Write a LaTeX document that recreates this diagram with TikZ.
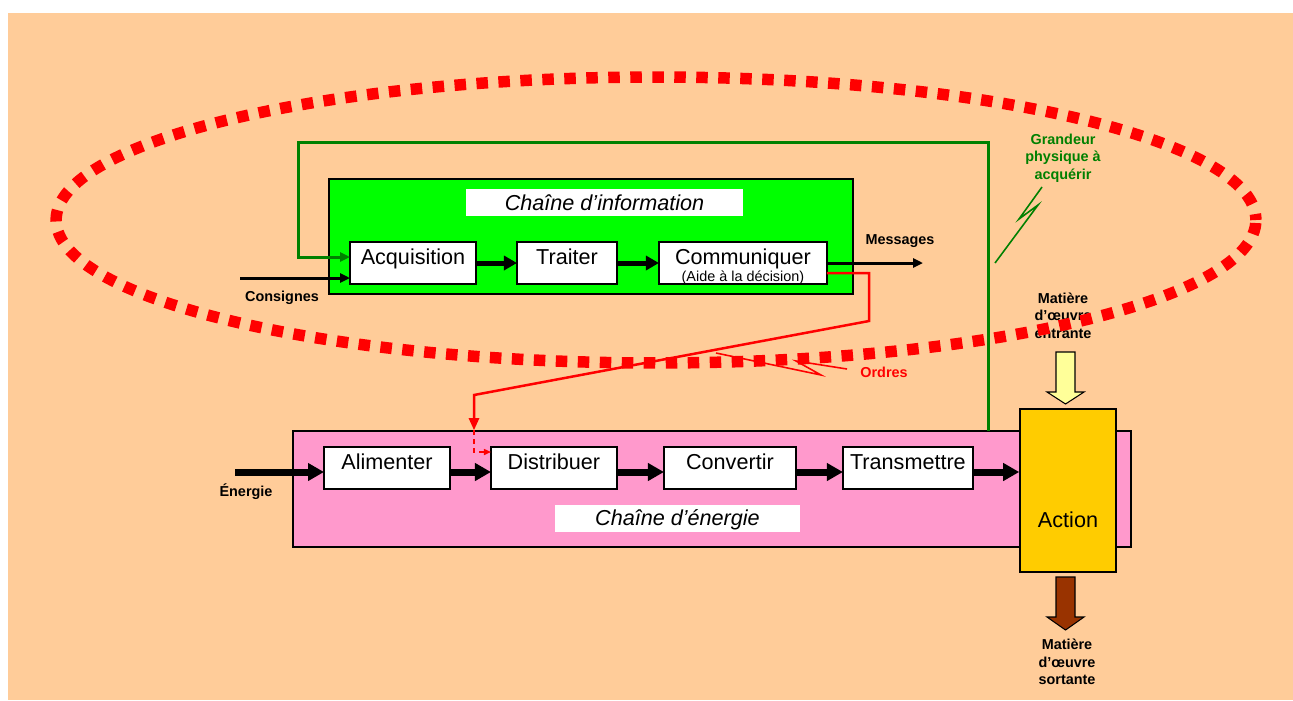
\documentclass[tikz,border=0pt]{standalone}
\usepackage{fontspec}
\setmainfont{Liberation Sans}
\usetikzlibrary{arrows.meta,positioning,calc}
\definecolor{peach}{HTML}{FFCC99}
\definecolor{infogreen}{HTML}{00FF00}
\definecolor{darkgreen}{HTML}{008000}
\definecolor{pinkchain}{HTML}{FF99CC}
\definecolor{actionyellow}{HTML}{FFCC00}
\definecolor{paleyellow}{HTML}{FFFF99}
\definecolor{brownout}{HTML}{993300}
\newcommand{\bigtext}{\fontsize{12.3}{14.8}\selectfont}
\newcommand{\smalltext}{\fontsize{8.2}{9.9}\selectfont}
\tikzstyle{block}      = [rectangle, draw, fill=white, line width=0.9pt, inner sep=0pt, outer sep=0pt, text height=0.44cm, text depth=0.40cm, font=\bigtext]
\tikzstyle{chainbox}   = [rectangle, draw, line width=0.9pt, inner sep=0pt]
\tikzstyle{chaintitle} = [rectangle, fill=white, inner sep=0pt, text height=0.42cm, text depth=0.12cm, font=\bigtext\itshape]
\tikzstyle{tag}        = [font=\smalltext\bfseries, align=center, inner sep=0pt]
\tikzstyle{line}       = [draw, line width=0.1cm, -{Triangle[length=0.26cm, width=0.28cm]}]
\tikzstyle{power}      = [draw, line width=0.14cm, -{Triangle[length=0.32cm, width=0.34cm]}]
\tikzstyle{thin line}  = [draw, line width=0.06cm, -{Triangle[length=0.2cm, width=0.18cm]}]

\begin{document}
\begin{tikzpicture}[x=0.02cm, y=-0.02cm, node distance=0.82cm]

		\useasboundingbox (0,0) rectangle (1293,700);
		\fill [peach] (8,13) rectangle (1293,700);

		% Chaine d'information %

		\node [chainbox, fill=infogreen, minimum width=10.48cm, minimum height=2.3cm] (info) at (591,236.5) {};
		\node [chaintitle, minimum width=5.54cm] (infotitle) at (604.5,202.5) {Chaîne d’information};
		% blocks ==================================%
		\node [block, minimum width=2.52cm] (acq) at (413,263) {Acquisition};
		\node [block, minimum width=2cm, right=0.82cm of acq] (trait) {Traiter};
		\node [block, minimum width=3.36cm, right=0.84cm of trait] (comm) {Communiquer};
		\node [font=\smalltext, inner sep=0pt, anchor=base] (aide) at ($(comm.south)+(0,-3)$) {(Aide à la décision)};

		% Chaine d'energie %

		\node [chainbox, fill=pinkchain, minimum width=16.76cm, minimum height=2.32cm] (nrj) at (712,489) {};
		\node [chaintitle, minimum width=4.9cm] (nrjtitle) at (677.5,518) {Chaîne d’énergie};
		% blocks ==================================%
		\node [block, minimum width=2.52cm] (alim) at (387,468) {Alimenter};
		\node [block, minimum width=2.52cm, right=0.82cm of alim] (dist) {Distribuer};
		\node [block, minimum width=2.64cm, right=0.94cm of dist] (conv) {Convertir};
		\node [block, minimum width=2.6cm, right=0.94cm of conv] (trans) {Transmettre};
		% action ==================================%
		\node [chainbox, fill=actionyellow, minimum width=1.92cm, text height=2.36cm, text depth=0.9cm, font=\bigtext] (act) at (1068,490.5) {Action};

		% Labels %

		\node [tag] (cons) at (282,298) {Consignes};
		\node [tag] (msg) at (900,241) {Messages};
		\node [tag] (nrjlabel) at (246,492) {Énergie};
		\node [tag, text=red] (ordres) at (884,372) {Ordres};
		\node [tag, text=darkgreen] (grandeur) at (1063,158) {Grandeur\\physique à\\acquérir};
		\node [tag] (entree) at (1063,315.5) {Matière\\d’œuvre\\entrante};
		\node [tag] (sortie) at (1067,662) {Matière\\d’œuvre\\sortante};

		% Connection %

		\coordinate (consin) at (240,278);
		\coordinate (msgout) at (923,263);
		\coordinate (nrjin) at (235,472);
		\coordinate (sensor) at (988,431);
		\coordinate (ordbend) at (474,395);
		\coordinate (transout) at ($(trans.east)+(0,4)$);

		\path [line] (acq)  -- (trait);
		\path [line] (trait)  -- (comm);
		\path [thin line] (comm.east)  -- (msgout);
		\path [thin line] (consin)  -- (consin -| acq.west);

		\path [power] (nrjin)  -- (nrjin -| alim.west);
		\path [power] ($(alim.east)+(0,4)$)  -- ($(dist.west)+(0,4)$);
		\path [power] ($(dist.east)+(0,4)$)  -- ($(conv.west)+(0,4)$);
		\path [power] ($(conv.east)+(0,4)$)  -- ($(trans.west)+(0,4)$);
		\path [power] (transout)  -- (transout -| act.west);

		\draw [darkgreen, line width=0.06cm, -{Triangle[length=0.2cm, width=0.18cm]}] (sensor) |- (298,142) |- ($(acq.west)+(0,-6)$);
		\draw [darkgreen, line width=0.9pt] (1042,187) -- (1019,219) -- (1038,205) -- (995,263);

		\draw [red, line width=0.05cm, -{Triangle[length=0.24cm, width=0.2cm]}] ($(comm.east)+(0,10)$) -| (869,321) -- (ordbend) -- (ordbend |- nrj.north);
		\draw [red, line width=0.03cm, dash pattern=on 0.1cm off 0.08cm, -{Triangle[length=0.14cm, width=0.12cm]}] (ordbend |- nrj.north) |- ($(dist.west)+(0,-16)$);
		\draw [red, line width=0.9pt] (847,369) -- (796,361) -- (821,375) -- (716,353);

		% Matiere d'oeuvre %

		\filldraw [fill=paleyellow, draw=black, line width=0.6pt] (1056,352) -- (1075,352) -- (1075,392) -- (1084,392) -- (1065.5,404) -- (1047,392) -- (1056,392) -- cycle;
		\filldraw [fill=brownout, draw=black, line width=0.6pt] (1056,577) -- (1075,577) -- (1075,617) -- (1084,617) -- (1065.5,630) -- (1047,617) -- (1056,617) -- cycle;

		% Frontiere %

		\draw [red, line width=0.23cm, dash pattern=on 0.23cm off 0.21cm, dash phase=0.11cm] (656,220) ellipse [x radius=12cm, y radius=2.86cm];
	\end{tikzpicture}
\end{document}
